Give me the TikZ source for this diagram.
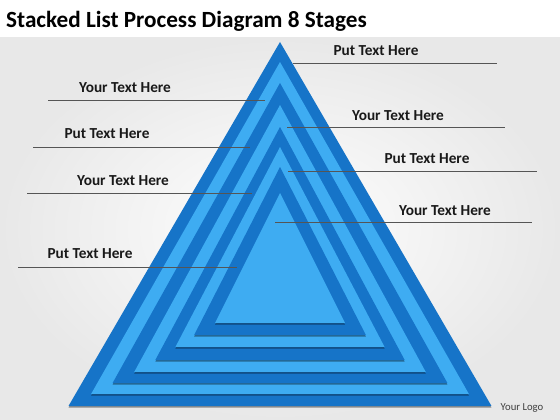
\documentclass[tikz,border=0pt]{standalone}
\usepackage{fontspec}
\setmainfont{Carlito}
\usetikzlibrary{shadows}
\definecolor{stackdark}{RGB}{22,116,200}
\definecolor{stacklight}{RGB}{62,172,242}
\definecolor{labelline}{RGB}{85,85,85}
\tikzset{
  stagetext/.style={font=\bfseries\fontsize{15.3}{17}\selectfont, text=black!90, inner sep=0pt},
  stageline/.style={draw=labelline, line width=0.7pt},
  stagetri/.style={drop shadow={shadow xshift=0pt, shadow yshift=-1.6pt, opacity=0.4, fill=black}},
}
\begin{document}
\begin{tikzpicture}[x=1pt, y=-1pt]
  \useasboundingbox (0,0) rectangle (560,420);
  % background
  \fill[white] (0,0) rectangle (560,420);
  \shade[inner color=white, outer color=gray!18] (0,38) rectangle (560,420);
  \node[anchor=base west, inner sep=0pt, font=\bfseries\fontsize{23.2}{26}\selectfont] (title) at (6,28) {Stacked List Process Diagram 8 Stages};
  % stacked triangles: apex / bottom / slope / colour
  \foreach \ay/\by/\r/\c in {42/406/0.581/stackdark, 62/394/0.569/stacklight,
      83/383/0.558/stackdark, 105/372/0.546/stacklight, 127/360/0.535/stackdark,
      147/347/0.523/stacklight, 167/335/0.511/stackdark, 193/323/0.5/stacklight}
    \fill[\c, stagetri] (280,\ay) -- ({280+\r*(\by-\ay)},\by) -- ({280-\r*(\by-\ay)},\by) -- cycle;
  % left labels
  \node[stagetext] (left1) at (125,88) {Your Text Here};
  \coordinate (left1a) at (48,100);  \coordinate (left1b) at (265,100);
  \draw[stageline] (left1a) -- (left1b);
  \node[stagetext] (left2) at (107,134) {Put Text Here};
  \coordinate (left2a) at (33,147);  \coordinate (left2b) at (250,147);
  \draw[stageline] (left2a) -- (left2b);
  \node[stagetext] (left3) at (123,181) {Your Text Here};
  \coordinate (left3a) at (27,193);  \coordinate (left3b) at (252,193);
  \draw[stageline] (left3a) -- (left3b);
  \node[stagetext] (left4) at (90,254) {Put Text Here};
  \coordinate (left4a) at (18,267);  \coordinate (left4b) at (237,267);
  \draw[stageline] (left4a) -- (left4b);
  % right labels
  \node[stagetext] (right1) at (376,51) {Put Text Here};
  \coordinate (right1a) at (293,63);  \coordinate (right1b) at (497,63);
  \draw[stageline] (right1a) -- (right1b);
  \node[stagetext] (right2) at (398,116) {Your Text Here};
  \coordinate (right2a) at (287,127);  \coordinate (right2b) at (505,127);
  \draw[stageline] (right2a) -- (right2b);
  \node[stagetext] (right3) at (427,159) {Put Text Here};
  \coordinate (right3a) at (288,171);  \coordinate (right3b) at (537,171);
  \draw[stageline] (right3a) -- (right3b);
  \node[stagetext] (right4) at (445,211) {Your Text Here};
  \coordinate (right4a) at (275,222);  \coordinate (right4b) at (532,222);
  \draw[stageline] (right4a) -- (right4b);
  % logo
  \node[font=\fontsize{10.7}{12}\selectfont, text=black!75, inner sep=0pt] (logo) at (522,408) {Your Logo};
\end{tikzpicture}
\end{document}
